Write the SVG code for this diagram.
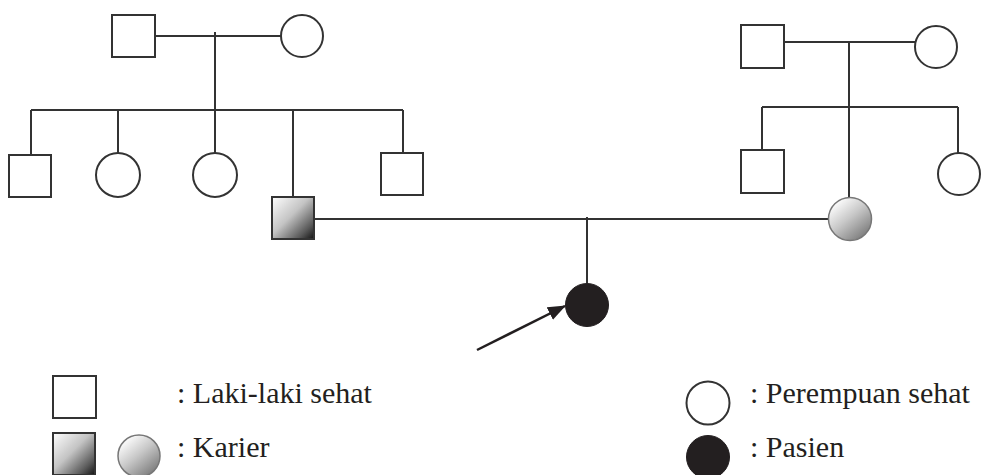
<svg xmlns="http://www.w3.org/2000/svg" width="984" height="475" viewBox="0 0 984 475">
<defs>
<linearGradient id="gSq" x1="0" y1="0" x2="1" y2="1">
<stop offset="0" stop-color="#ffffff"/>
<stop offset="0.45" stop-color="#c4c4c4"/>
<stop offset="0.8" stop-color="#5a5a5a"/>
<stop offset="1" stop-color="#111111"/>
</linearGradient>
<linearGradient id="gCi" x1="0.15" y1="0.1" x2="0.85" y2="0.95">
<stop offset="0" stop-color="#ffffff"/>
<stop offset="0.45" stop-color="#c8c8c8"/>
<stop offset="1" stop-color="#777777"/>
</linearGradient>
<marker id="arr" viewBox="0 0 18 14" refX="17" refY="7" markerWidth="18" markerHeight="14" markerUnits="userSpaceOnUse" orient="auto">
<path d="M0,0 L18,7 L0,14 Z" fill="#231f20"/>
</marker>
</defs>
<style>
.n{fill:#fff;stroke:#333;stroke-width:2}
.c{fill:url(#gSq);stroke:#333;stroke-width:2}
.cc{fill:url(#gCi);stroke:#777;stroke-width:1.5}
.p{fill:#231f20;stroke:#231f20;stroke-width:1}
.l{stroke:#333;stroke-width:2;fill:none}
.t{font-family:"Liberation Serif","Times New Roman",serif;font-size:30px;fill:#231f20}
</style>
<g id="connectors">
<line class="l" x1="155" y1="36" x2="281" y2="36"/>
<line class="l" x1="215" y1="32" x2="215" y2="110"/>
<line class="l" x1="31" y1="110" x2="403" y2="110"/>
<line class="l" x1="31" y1="110" x2="31" y2="155"/>
<line class="l" x1="118" y1="110" x2="118" y2="153"/>
<line class="l" x1="215" y1="110" x2="215" y2="153"/>
<line class="l" x1="293" y1="110" x2="293" y2="197"/>
<line class="l" x1="403" y1="110" x2="403" y2="153"/>
<line class="l" x1="784" y1="42" x2="915" y2="42"/>
<line class="l" x1="849" y1="42" x2="849" y2="197"/>
<line class="l" x1="762" y1="107" x2="958" y2="107"/>
<line class="l" x1="762" y1="107" x2="762" y2="150"/>
<line class="l" x1="958" y1="107" x2="958" y2="153"/>
<line class="l" x1="314" y1="219" x2="828" y2="219"/>
<line class="l" x1="587" y1="217" x2="587" y2="283"/>
<line x1="477" y1="350" x2="565" y2="306" stroke="#231f20" stroke-width="2.5" marker-end="url(#arr)"/>
</g>
<g id="gp1-father"><rect class="n" x="112" y="15" width="43" height="42"/></g>
<g id="gp1-mother"><circle class="n" cx="302" cy="36" r="21"/></g>
<g id="s1"><rect class="n" x="9" y="155" width="42" height="42"/></g>
<g id="s2"><circle class="n" cx="118" cy="175" r="22"/></g>
<g id="s3"><circle class="n" cx="215" cy="175" r="22"/></g>
<g id="father"><rect class="c" x="272" y="197" width="42" height="42"/></g>
<g id="s5"><rect class="n" x="381" y="153" width="42" height="42"/></g>
<g id="gp2-father"><rect class="n" x="741" y="25" width="43" height="43"/></g>
<g id="gp2-mother"><circle class="n" cx="936" cy="47" r="21"/></g>
<g id="r1"><rect class="n" x="741" y="150" width="43" height="43"/></g>
<g id="mother"><circle class="cc" cx="850" cy="219" r="21.5"/></g>
<g id="r3"><circle class="n" cx="959" cy="174" r="21"/></g>
<g id="patient"><circle class="p" cx="587" cy="305" r="21.5"/></g>
<g id="legend">
<rect class="n" x="53" y="376" width="43" height="42"/>
<text class="t" x="177" y="403">: Laki-laki sehat</text>
<rect class="c" x="53" y="433" width="42" height="42"/>
<circle class="cc" cx="139" cy="456" r="21"/>
<text class="t" x="177" y="457">: Karier</text>
<circle class="n" cx="708" cy="403" r="21.5"/>
<text class="t" x="750" y="403">: Perempuan sehat</text>
<circle class="p" cx="708" cy="457" r="21.5"/>
<text class="t" x="750" y="457">: Pasien</text>
</g>
</svg>
